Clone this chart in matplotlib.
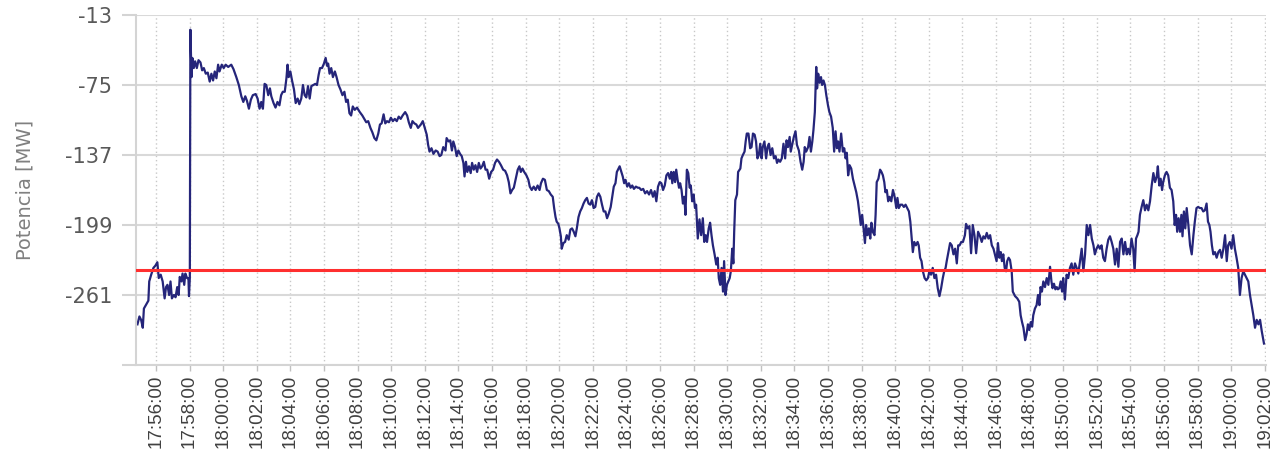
import pandas as pd
import matplotlib
matplotlib.use('Agg')
import matplotlib.pyplot as plt
import matplotlib.dates as mdates

# power trace: seconds after 17:54:00 and value in MW
t_sec = [
    54, 61, 67, 73, 77, 84, 93, 96, 103, 111, 118, 125, 130, 137, 144, 151, 156, 161, 167, 172,
    177, 184, 190, 196, 201, 205, 211, 215, 221, 225, 231, 236, 238, 241, 243, 247, 250, 255, 260, 266,
    272, 279, 285, 291, 298, 305, 312, 318, 324, 330, 336, 342, 347, 355, 362, 369, 378, 389, 397, 407,
    416, 425, 432, 439, 445, 452, 459, 466, 476, 483, 490, 496, 502, 508, 514, 521, 527, 532, 540, 547,
    554, 561, 567, 573, 580, 586, 590, 594, 600, 606, 613, 619, 626, 632, 639, 645, 651, 657, 663, 669,
    675, 682, 689, 695, 701, 706, 713, 720, 726, 731, 735, 740, 746, 752, 759, 765, 772, 779, 786, 793,
    799, 805, 811, 817, 823, 830, 838, 848, 857, 864, 871, 878, 886, 893, 900, 907, 914, 920, 926, 933,
    939, 945, 952, 959, 966, 973, 980, 987, 994, 1001, 1010, 1017, 1023, 1030, 1036, 1043, 1050, 1056,
    1066, 1073, 1080, 1087, 1092, 1097, 1104, 1111, 1119, 1126, 1133, 1139, 1146, 1154, 1158, 1165, 1171, 1177,
    1182, 1188, 1194, 1200, 1206, 1212, 1218, 1222, 1227, 1232, 1238, 1244, 1249, 1255, 1261, 1267, 1273, 1279,
    1285, 1291, 1297, 1303, 1310, 1317, 1324, 1331, 1338, 1345, 1352, 1360, 1367, 1374, 1380, 1386, 1392, 1398,
    1405, 1412, 1418, 1423, 1429, 1435, 1443, 1450, 1455, 1462, 1469, 1476, 1483, 1490, 1495, 1502, 1509, 1516,
    1523, 1530, 1537, 1542, 1547, 1551, 1557, 1561, 1566, 1569, 1575, 1581, 1587, 1594, 1600, 1606, 1612, 1618,
    1623, 1629, 1635, 1641, 1647, 1653, 1659, 1665, 1671, 1677, 1683, 1689, 1695, 1701, 1707, 1713, 1719, 1725,
    1731, 1737, 1744, 1749, 1755, 1761, 1766, 1770, 1776, 1782, 1787, 1792, 1797, 1803, 1809, 1815, 1821, 1827,
    1834, 1841, 1846, 1853, 1860, 1867, 1874, 1881, 1888, 1895, 1901, 1907, 1913, 1919, 1925, 1931, 1937, 1943,
    1949, 1955, 1960, 1964, 1969, 1974, 1978, 1983, 1988, 1992, 1997, 2002, 2007, 2011, 2016, 2021, 2026, 2030,
    2035, 2040, 2045, 2049, 2055, 2061, 2067, 2073, 2078, 2083, 2088, 2094, 2099, 2104, 2109, 2115, 2121, 2126,
    2130, 2135, 2140, 2145, 2149, 2154, 2159, 2164, 2169, 2173, 2178, 2182, 2185, 2189, 2195, 2199, 2207, 2211,
    2216, 2222, 2226, 2230, 2236, 2242, 2247, 2252, 2258, 2263, 2268, 2273, 2278, 2283, 2287, 2293, 2299, 2304,
    2309, 2315, 2321, 2327, 2333, 2338, 2343, 2349, 2355, 2361, 2367, 2372, 2377, 2383, 2387, 2392, 2398, 2404,
    2409, 2416, 2422, 2428, 2433, 2437, 2442, 2449, 2454, 2459, 2464, 2468, 2473, 2478, 2481, 2485, 2490, 2495,
    2499, 2504, 2509, 2514, 2520, 2525, 2531, 2537, 2542, 2547, 2552, 2556, 2561, 2567, 2573, 2578, 2583, 2587,
    2592, 2597, 2603, 2609, 2615, 2621, 2627, 2633, 2637, 2642, 2647, 2652, 2656, 2661, 2666, 2671, 2675, 2680,
    2686, 2690, 2694, 2700, 2706, 2711, 2716, 2721, 2725, 2730, 2735, 2740, 2746, 2752, 2758, 2764, 2768, 2773,
    2779, 2785, 2791, 2797, 2803, 2809, 2814, 2818, 2823, 2828, 2834, 2840, 2844, 2849, 2854, 2859, 2865, 2871,
    2877, 2882, 2888, 2894, 2900, 2906, 2912, 2918, 2924, 2930, 2935, 2940, 2944, 2950, 2956, 2962, 2968, 2974,
    2980, 2985, 2990, 2996, 3002, 3009, 3013, 3019, 3025, 3031, 3037, 3043, 3049, 3056, 3063, 3069, 3075, 3081,
    3087, 3093, 3099, 3105, 3111, 3116, 3122, 3127, 3132, 3137, 3141, 3146, 3151, 3156, 3160, 3165, 3170, 3176,
    3180, 3188, 3196, 3203, 3208, 3213, 3218, 3224, 3229, 3234, 3239, 3244, 3249, 3253, 3259, 3265, 3270, 3275,
    3279, 3284, 3289, 3295, 3301, 3307, 3313, 3318, 3322, 3327, 3332, 3337, 3341, 3346, 3351, 3356, 3360, 3366,
    3372, 3378, 3384, 3390, 3396, 3402, 3408, 3414, 3420, 3426, 3432, 3438, 3444, 3450, 3456, 3462, 3468, 3473,
    3479, 3485, 3491, 3497, 3503, 3509, 3515, 3521, 3527, 3533, 3539, 3545, 3551, 3557, 3563, 3569, 3575, 3581,
    3587, 3592, 3598, 3604, 3610, 3615, 3620, 3625, 3629, 3634, 3640, 3646, 3652, 3658, 3664, 3670, 3676, 3682,
    3688, 3694, 3698, 3703, 3708, 3713, 3717, 3723, 3729, 3735, 3741, 3747, 3753, 3758, 3763, 3767, 3772, 3777,
    3782, 3786, 3791, 3796, 3801, 3807, 3813, 3819, 3825, 3830, 3836, 3842, 3848, 3854, 3860, 3866, 3872, 3877,
    3882, 3886, 3891, 3896, 3902, 3908, 3914, 3920, 3926, 3932, 3938, 3944, 3949, 3955, 3961, 3967, 3973, 3979,
    3985, 3991, 3997, 4003, 4009, 4015, 4021, 4027, 4033, 4039, 4045, 4051, 4057, 4063, 4069, 4077,
]
power_mw = [
    -287, -280, -283, -290, -273, -270, -266, -249, -243, -237, -235, -232, -246, -243, -249, -264, -254, -252, -261, -249,
    -264, -261, -263, -254, -261, -245, -249, -242, -252, -242, -246, -246, -262, -246, -26, -68, -51, -60, -54, -60,
    -53, -55, -62, -60, -65, -64, -72, -65, -71, -63, -69, -57, -63, -57, -60, -57, -59, -57, -61, -68,
    -75, -85, -90, -85, -89, -96, -88, -84, -83, -87, -96, -90, -96, -74, -75, -84, -78, -85, -91, -95,
    -90, -93, -84, -81, -81, -69, -57, -68, -63, -71, -79, -91, -87, -92, -87, -75, -84, -86, -76, -87,
    -76, -75, -74, -75, -66, -60, -60, -56, -51, -58, -56, -65, -60, -68, -63, -68, -75, -79, -84, -81,
    -90, -88, -100, -102, -94, -97, -95, -99, -102, -105, -108, -107, -113, -117, -122, -124, -118, -110, -109, -101,
    -109, -107, -108, -104, -107, -105, -107, -103, -105, -102, -99, -102, -108, -113, -107, -109, -110, -113,
    -110, -107, -113, -119, -128, -134, -131, -136, -133, -134, -138, -137, -130, -133, -122, -125, -124, -133,
    -125, -130, -138, -133, -136, -138, -144, -156, -143, -152, -147, -153, -144, -150, -146, -152, -144, -149,
    -147, -143, -150, -150, -158, -152, -150, -144, -141, -143, -146, -150, -151, -155, -161, -171, -168, -166,
    -158, -150, -147, -152, -149, -152, -155, -159, -165, -168, -165, -168, -164, -168, -162, -158, -159, -168,
    -169, -172, -174, -184, -192, -196, -198, -202, -209, -220, -215, -214, -208, -212, -203, -202, -205, -209,
    -202, -192, -187, -184, -180, -177, -175, -180, -181, -177, -184, -183, -174, -171, -174, -181, -187, -187,
    -193, -189, -183, -175, -165, -162, -152, -150, -147, -152, -156, -162, -159, -165, -162, -166, -164, -167,
    -165, -166, -166, -168, -167, -171, -169, -172, -168, -174, -169, -178, -165, -161, -162, -168, -164, -155,
    -153, -158, -152, -162, -152, -161, -150, -159, -166, -162, -168, -180, -174, -190, -150, -153, -166, -164,
    -178, -172, -184, -181, -211, -194, -208, -193, -214, -208, -214, -202, -197, -208, -217, -225, -234, -228,
    -246, -252, -237, -258, -231, -261, -252, -249, -246, -240, -220, -233, -205, -177, -172, -152, -149, -140,
    -137, -134, -125, -118, -118, -131, -130, -118, -119, -125, -140, -137, -127, -140, -130, -125, -140, -130,
    -127, -137, -131, -140, -138, -144, -141, -143, -140, -127, -140, -124, -130, -121, -134, -128, -121, -116,
    -128, -133, -143, -150, -143, -130, -134, -130, -121, -134, -125, -115, -99, -59, -78, -65, -73, -68,
    -75, -71, -75, -84, -93, -99, -103, -113, -134, -116, -131, -125, -134, -118, -134, -131, -140, -135,
    -155, -146, -149, -158, -164, -170, -178, -190, -199, -190, -202, -215, -199, -208, -202, -211, -197, -205,
    -208, -190, -161, -158, -150, -152, -155, -161, -170, -168, -178, -174, -178, -168, -174, -184, -175, -184,
    -181, -181, -183, -181, -184, -187, -196, -208, -223, -214, -217, -214, -217, -228, -231, -240, -246, -248,
    -246, -240, -243, -237, -246, -243, -255, -262, -255, -246, -240, -237, -231, -223, -215, -217, -225, -220,
    -233, -217, -217, -214, -214, -208, -198, -202, -200, -224, -199, -208, -224, -205, -209, -214, -209, -211,
    -206, -211, -208, -217, -220, -225, -231, -215, -228, -223, -231, -225, -237, -240, -231, -228, -230, -240,
    -258, -262, -264, -267, -279, -285, -290, -301, -296, -287, -292, -285, -289, -279, -273, -270, -261, -270,
    -254, -258, -249, -254, -246, -252, -236, -249, -255, -251, -256, -254, -256, -255, -249, -258, -246, -265,
    -243, -246, -237, -233, -243, -233, -237, -242, -231, -220, -240, -225, -199, -208, -199, -211, -217, -225,
    -220, -217, -220, -217, -228, -231, -220, -212, -209, -214, -220, -234, -220, -236, -214, -211, -225, -214,
    -225, -220, -225, -211, -220, -240, -211, -208, -205, -190, -183, -177, -186, -181, -186, -178, -164, -153,
    -161, -156, -147, -164, -158, -168, -161, -155, -152, -155, -166, -168, -178, -199, -190, -205, -193, -205,
    -190, -209, -187, -202, -184, -199, -217, -225, -208, -196, -184, -183, -184, -184, -187, -186, -180, -196,
    -199, -205, -217, -225, -223, -228, -223, -221, -228, -220, -208, -231, -217, -214, -220, -208, -220, -228,
    -237, -261, -246, -240, -243, -246, -249, -261, -270, -279, -290, -283, -287, -283, -293, -304,
]
limit_mw = -239

y_ticks = [-323, -261, -199, -137, -75, -13]
y_ticklabels = ['', '-261', '-199', '-137', '-75', '-13']
t0 = pd.Timestamp('2000-01-01 17:54:00')
x_lo_sec, x_hi_sec = 49, 4083

times = t0 + pd.to_timedelta(t_sec, unit='s')

fig = plt.figure(figsize=(12.8, 4.59), dpi=100)
ax = fig.add_axes([0.1063, 0.2048, 0.8825, 0.7625])

ax.plot(times, power_mw, color='#25257a', lw=1.6, zorder=2)
ax.axhline(limit_mw, color='#ff2f2f', lw=2.2, zorder=3)

ax.set_ylim(-323, -13)
ax.set_xlim(t0 + pd.Timedelta(seconds=x_lo_sec), t0 + pd.Timedelta(seconds=x_hi_sec))
ax.set_yticks(y_ticks)
ax.set_yticklabels(y_ticklabels)
ax.xaxis.set_major_locator(mdates.MinuteLocator(byminute=range(0, 60, 2)))
ax.xaxis.set_major_formatter(mdates.DateFormatter('%H:%M:%S'))

# grid: solid horizontal, dotted vertical
ax.yaxis.grid(True, color='#d9d9d9', lw=1.5, zorder=0)
ax.xaxis.grid(True, color='#c8c8c8', lw=1.0, linestyle=(0, (1, 2)), zorder=0)
ax.set_axisbelow(True)

for side in ['top', 'right']:
    ax.spines[side].set_visible(False)
for side in ['left', 'bottom']:
    ax.spines[side].set_color('#d4d4d4')
    ax.spines[side].set_linewidth(1.5)

ax.tick_params(axis='y', length=10, width=1.5, color='#d4d4d4',
               labelcolor='#595959', labelsize=15, pad=7)
ax.tick_params(axis='x', length=4, width=1.0, color='#c0c0c0',
               labelcolor='#404040', pad=3)
for lbl in ax.get_xticklabels():
    lbl.set_rotation(90)
    lbl.set_family('Liberation Sans')
    lbl.set_fontsize(13.5)

ax.set_ylabel('Potencia [MW]', color='#808080', fontsize=14, labelpad=22)

fig.savefig('out.png', dpi=100)
